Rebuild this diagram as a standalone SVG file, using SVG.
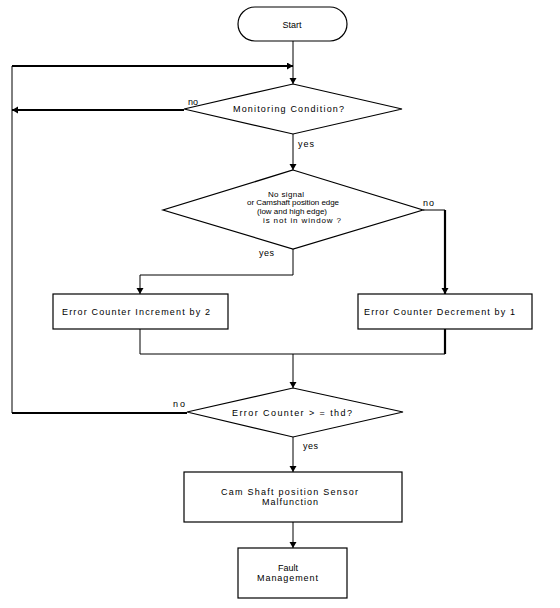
<svg xmlns="http://www.w3.org/2000/svg" width="560" height="608" viewBox="0 0 560 608">
<defs>
<style>
.shape{fill:#fff;stroke:#000;stroke-width:1.2}
.ln{fill:none;stroke:#000;stroke-width:1}
.tk{fill:none;stroke:#000;stroke-width:2.2}
text{font-family:"Liberation Sans",Arial,sans-serif;font-size:9px;fill:#000}
.sm{font-size:8px}
.c{text-anchor:middle}
</style>
<marker id="ah" markerUnits="userSpaceOnUse" markerWidth="8" markerHeight="8" refX="6" refY="3.5" orient="auto">
<path d="M0,0 L6,3.5 L0,7 z" fill="#000"/>
</marker>
</defs>
<rect width="560" height="608" fill="#fff"/>
<g id="connectors">
<path class="ln" d="M293,41 V84" marker-end="url(#ah)"/>
<path class="tk" d="M187,413 H12"/>
<path class="ln" d="M12,413 V66"/>
<path class="tk" d="M12,66 H293" marker-end="url(#ah)"/>
<path class="tk" d="M184,110 H12" marker-end="url(#ah)"/>
<path class="ln" d="M293,134 V170" marker-end="url(#ah)"/>
<path class="ln" d="M423,210 H445"/>
<path class="tk" d="M445,210 V294" marker-end="url(#ah)"/>
<path class="ln" d="M293,249 V275 H140 V294" marker-end="url(#ah)"/>
<path class="ln" d="M140,329 V354 H445"/>
<path class="tk" d="M445,329 V354"/>
<path class="ln" d="M293,354 V388" marker-end="url(#ah)"/>
<path class="ln" d="M293,437 V472" marker-end="url(#ah)"/>
<path class="ln" d="M293,522 V548" marker-end="url(#ah)"/>
<text x="188" y="105" textLength="10">no</text>
<text x="298" y="147" textLength="16">yes</text>
<text x="423" y="206" textLength="11">no</text>
<text x="259" y="256" textLength="15">yes</text>
<text x="173" y="407" textLength="12">no</text>
<text x="303" y="449" textLength="15">yes</text>
</g>
<g id="start">
<rect class="shape" x="238" y="7" width="109" height="34" rx="17"/>
<text class="c" x="292" y="28">Start</text>
</g>
<g id="monitoring">
<polygon class="shape" points="293,84 402,109 293,134 184,109"/>
<text x="233" y="112" textLength="111">Monitoring Condition?</text>
</g>
<g id="signal-check">
<polygon class="shape" points="293,170 423,210 293,249 163,210"/>
<text class="sm" x="268" y="197" textLength="36">No signal</text>
<text class="sm" x="247" y="205" textLength="92">or  Camshaft position edge</text>
<text class="sm" x="257" y="214" textLength="70">(low and high edge)</text>
<text class="sm" x="263" y="223" textLength="78">is not in window ?</text>
</g>
<g id="increment">
<rect class="shape" x="53" y="294" width="175" height="35"/>
<text x="62" y="315" textLength="148">Error Counter Increment by 2</text>
</g>
<g id="decrement">
<rect class="shape" x="358" y="294" width="174" height="35"/>
<text x="364" y="315" textLength="151">Error Counter Decrement by 1</text>
</g>
<g id="threshold">
<polygon class="shape" points="293,388 403,412 293,437 187,412"/>
<text x="232" y="416" textLength="120">Error Counter &gt; = thd?</text>
</g>
<g id="malfunction">
<rect class="shape" x="184" y="472" width="218" height="50"/>
<text x="221" y="495" textLength="137">Cam Shaft position Sensor</text>
<text x="262" y="505" textLength="56">Malfunction</text>
</g>
<g id="fault">
<rect class="shape" x="238" y="548" width="109" height="50"/>
<text class="c" x="288" y="571">Fault</text>
<text x="257" y="581" textLength="61">Management</text>
</g>
</svg>
